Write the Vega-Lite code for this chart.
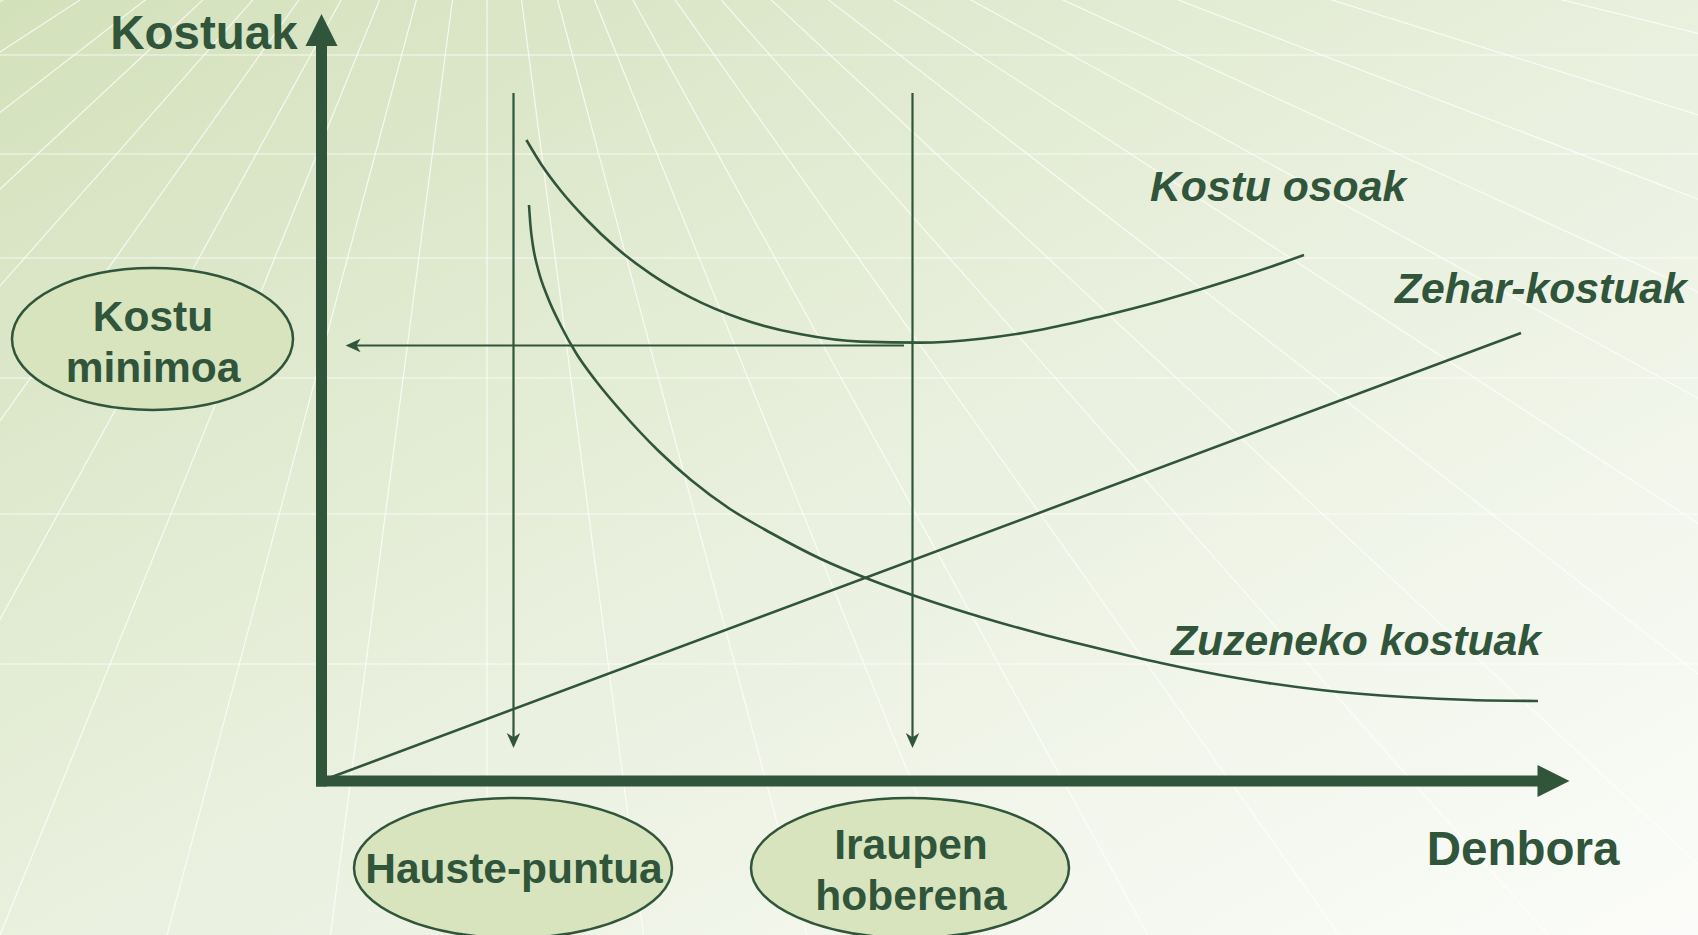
{
  "$schema": "https://vega.github.io/schema/vega-lite/v6.json",
  "width": 1698,
  "height": 935,
  "autosize": {"type": "none"},
  "padding": 0,
  "background": "#ffffff",
  "config": {"view": {"stroke": null}},
  "datasets": {
    "frame": [{"x": -321, "x2": 1377, "y": -154, "y2": 781}],
    "grid": [
      {"x": 166, "y": 1046, "x2": 166, "y2": -334},
      {"x": 166, "y": 1046, "x2": 346, "y2": -334},
      {"x": 166, "y": 1046, "x2": -14, "y2": -334},
      {"x": 166, "y": 1046, "x2": 534, "y2": -334},
      {"x": 166, "y": 1046, "x2": -202, "y2": -334},
      {"x": 166, "y": 1046, "x2": 726, "y2": -334},
      {"x": 166, "y": 1046, "x2": -394, "y2": -334},
      {"x": 166, "y": 1046, "x2": 926, "y2": -334},
      {"x": 166, "y": 1046, "x2": -594, "y2": -334},
      {"x": 166, "y": 1046, "x2": 1146, "y2": -334},
      {"x": 166, "y": 1046, "x2": -814, "y2": -334},
      {"x": 166, "y": 1046, "x2": 1386, "y2": -334},
      {"x": 166, "y": 1046, "x2": -1054, "y2": -334},
      {"x": 166, "y": 1046, "x2": 1646, "y2": -334},
      {"x": 166, "y": 1046, "x2": -1314, "y2": -334},
      {"x": 166, "y": 1046, "x2": 1946, "y2": -334},
      {"x": 166, "y": 1046, "x2": -1614, "y2": -334},
      {"x": 166, "y": 1046, "x2": 2286, "y2": -334},
      {"x": 166, "y": 1046, "x2": -1954, "y2": -334},
      {"x": 166, "y": 1046, "x2": 2686, "y2": -334},
      {"x": 166, "y": 1046, "x2": -2354, "y2": -334},
      {"x": 166, "y": 1046, "x2": 3166, "y2": -334},
      {"x": 166, "y": 1046, "x2": -2834, "y2": -334},
      {"x": 166, "y": 1046, "x2": 3766, "y2": -334},
      {"x": 166, "y": 1046, "x2": -3434, "y2": -334},
      {"x": 166, "y": 1046, "x2": 4566, "y2": -334},
      {"x": 166, "y": 1046, "x2": -4234, "y2": -334},
      {"x": 166, "y": 1046, "x2": 5766, "y2": -334},
      {"x": 166, "y": 1046, "x2": -5434, "y2": -334},
      {"x": 166, "y": 1046, "x2": 7766, "y2": -334},
      {"x": 166, "y": 1046, "x2": -7434, "y2": -334},
      {"x": -321, "y": 726, "x2": 1377, "y2": 726},
      {"x": -321, "y": 627, "x2": 1377, "y2": 627},
      {"x": -321, "y": 523, "x2": 1377, "y2": 523},
      {"x": -321, "y": 403, "x2": 1377, "y2": 403},
      {"x": -321, "y": 267, "x2": 1377, "y2": 267},
      {"x": -321, "y": 117, "x2": 1377, "y2": 117}
    ],
    "axes": [
      {"x": 0.5, "y": -5.5, "x2": 0.5, "y2": 737},
      {"x": -5, "y": 0, "x2": 1218, "y2": 0}
    ],
    "axisHeadUp": [{"x": 0.5, "y": 751}],
    "axisHeadRight": [{"x": 1232.5, "y": 0}],
    "curves": [
      {"series": "Kostu osoak", "x": 205.4, "y": 641},
      {"series": "Kostu osoak", "x": 220, "y": 617},
      {"series": "Kostu osoak", "x": 240, "y": 590},
      {"series": "Kostu osoak", "x": 265, "y": 562},
      {"series": "Kostu osoak", "x": 295, "y": 533.4},
      {"series": "Kostu osoak", "x": 330, "y": 506.9},
      {"series": "Kostu osoak", "x": 370, "y": 483.3},
      {"series": "Kostu osoak", "x": 420, "y": 462.2},
      {"series": "Kostu osoak", "x": 480, "y": 446.7},
      {"series": "Kostu osoak", "x": 540, "y": 439.4},
      {"series": "Kostu osoak", "x": 600, "y": 438.4},
      {"series": "Kostu osoak", "x": 660, "y": 442.3},
      {"series": "Kostu osoak", "x": 720, "y": 451.2},
      {"series": "Kostu osoak", "x": 780, "y": 464.6},
      {"series": "Kostu osoak", "x": 840, "y": 480.0},
      {"series": "Kostu osoak", "x": 900, "y": 497.9},
      {"series": "Kostu osoak", "x": 960, "y": 517.8},
      {"series": "Kostu osoak", "x": 983, "y": 526.0},
      {"series": "Zuzeneko kostuak", "x": 208, "y": 576},
      {"series": "Zuzeneko kostuak", "x": 209.5, "y": 555},
      {"series": "Zuzeneko kostuak", "x": 212, "y": 535},
      {"series": "Zuzeneko kostuak", "x": 217, "y": 512},
      {"series": "Zuzeneko kostuak", "x": 227, "y": 483},
      {"series": "Zuzeneko kostuak", "x": 240, "y": 455},
      {"series": "Zuzeneko kostuak", "x": 255, "y": 428},
      {"series": "Zuzeneko kostuak", "x": 275, "y": 400},
      {"series": "Zuzeneko kostuak", "x": 300, "y": 370},
      {"series": "Zuzeneko kostuak", "x": 337.6, "y": 330},
      {"series": "Zuzeneko kostuak", "x": 370, "y": 301},
      {"series": "Zuzeneko kostuak", "x": 409, "y": 272},
      {"series": "Zuzeneko kostuak", "x": 450, "y": 248},
      {"series": "Zuzeneko kostuak", "x": 500, "y": 222},
      {"series": "Zuzeneko kostuak", "x": 550, "y": 201},
      {"series": "Zuzeneko kostuak", "x": 600, "y": 183},
      {"series": "Zuzeneko kostuak", "x": 663, "y": 163},
      {"series": "Zuzeneko kostuak", "x": 720, "y": 147},
      {"series": "Zuzeneko kostuak", "x": 780, "y": 132},
      {"series": "Zuzeneko kostuak", "x": 840, "y": 118},
      {"series": "Zuzeneko kostuak", "x": 916, "y": 103},
      {"series": "Zuzeneko kostuak", "x": 1000, "y": 91},
      {"series": "Zuzeneko kostuak", "x": 1084, "y": 84},
      {"series": "Zuzeneko kostuak", "x": 1150, "y": 81},
      {"series": "Zuzeneko kostuak", "x": 1217, "y": 80},
      {"series": "Zehar-kostuak", "x": 0, "y": 0},
      {"series": "Zehar-kostuak", "x": 1200, "y": 448}
    ],
    "guides": [
      {"x": 192.5, "y": 688, "x2": 192.5, "y2": 36},
      {"x": 591.5, "y": 688, "x2": 591.5, "y2": 36},
      {"x": 583, "y": 435.5, "x2": 30, "y2": 435.5}
    ],
    "headsDown": [{"x": 192.5, "y": 40.5}, {"x": 591.5, "y": 40.5}],
    "headsLeft": [{"x": 32.1, "y": 435.5}],
    "ellipseLeft": [{"x": -168.5, "y": 442}],
    "ellipseBottom": [{"x": 192, "y": -87}, {"x": 589, "y": -87}],
    "titles": [
      {"label": "Kostuak", "x": -117, "y": 731.7},
      {"label": "Denbora", "x": 1202, "y": -84}
    ],
    "boxLabels": [
      {"label": "Kostu", "x": -168, "y": 450},
      {"label": "minimoa", "x": -168, "y": 399},
      {"label": "Hauste-puntua", "x": 193, "y": -102},
      {"label": "Iraupen", "x": 590, "y": -78},
      {"label": "hoberena", "x": 590, "y": -129}
    ],
    "curveLabels": [
      {"label": "Kostu osoak", "x": 829, "y": 580},
      {"label": "Zehar-kostuak", "x": 1074, "y": 478},
      {"label": "Zuzeneko kostuak", "x": 850, "y": 126}
    ]
  },
  "layer": [
    {
      "data": {"name": "frame"},
      "mark": {"type": "rect", "fill": {"gradient": "linear", "x1": 0, "y1": 0, "x2": 1, "y2": 1, "stops": [{"offset": 0, "color": "#d3e1bb"}, {"offset": 0.5, "color": "#e9f0de"}, {"offset": 1, "color": "#fbfcf9"}]}},
      "encoding": {
        "x": {"field": "x", "type": "quantitative", "axis": null, "scale": {"domain": [-321, 1377], "nice": false, "zero": false}},
        "x2": {"field": "x2"},
        "y": {"field": "y", "type": "quantitative", "axis": null, "scale": {"domain": [-154, 781], "nice": false, "zero": false}},
        "y2": {"field": "y2"}
      }
    },
    {
      "data": {"name": "grid"},
      "mark": {"type": "rule", "color": "#ffffff", "strokeWidth": 1.2, "opacity": 0.75, "clip": true},
      "encoding": {
        "x": {"field": "x", "type": "quantitative", "axis": null, "scale": {"domain": [-321, 1377], "nice": false, "zero": false}},
        "x2": {"field": "x2"},
        "y": {"field": "y", "type": "quantitative", "axis": null, "scale": {"domain": [-154, 781], "nice": false, "zero": false}},
        "y2": {"field": "y2"}
      }
    },
    {
      "data": {"name": "axes"},
      "mark": {"type": "rule", "color": "#30553a", "strokeWidth": 11},
      "encoding": {
        "x": {"field": "x", "type": "quantitative", "axis": null, "scale": {"domain": [-321, 1377], "nice": false, "zero": false}},
        "x2": {"field": "x2"},
        "y": {"field": "y", "type": "quantitative", "axis": null, "scale": {"domain": [-154, 781], "nice": false, "zero": false}},
        "y2": {"field": "y2"}
      }
    },
    {
      "data": {"name": "axisHeadUp"},
      "mark": {"type": "point", "shape": "M0,-1L1,1L-1,1Z", "size": 1024, "filled": true, "opacity": 1, "color": "#30553a"},
      "encoding": {
        "x": {"field": "x", "type": "quantitative", "axis": null, "scale": {"domain": [-321, 1377], "nice": false, "zero": false}},
        "y": {"field": "y", "type": "quantitative", "axis": null, "scale": {"domain": [-154, 781], "nice": false, "zero": false}}
      }
    },
    {
      "data": {"name": "axisHeadRight"},
      "mark": {"type": "point", "shape": "M0,-1L1,1L-1,1Z", "size": 1024, "angle": 90, "filled": true, "opacity": 1, "color": "#30553a"},
      "encoding": {
        "x": {"field": "x", "type": "quantitative", "axis": null, "scale": {"domain": [-321, 1377], "nice": false, "zero": false}},
        "y": {"field": "y", "type": "quantitative", "axis": null, "scale": {"domain": [-154, 781], "nice": false, "zero": false}}
      }
    },
    {
      "data": {"name": "guides"},
      "mark": {"type": "rule", "color": "#30553a", "strokeWidth": 2.2},
      "encoding": {
        "x": {"field": "x", "type": "quantitative", "axis": null, "scale": {"domain": [-321, 1377], "nice": false, "zero": false}},
        "x2": {"field": "x2"},
        "y": {"field": "y", "type": "quantitative", "axis": null, "scale": {"domain": [-154, 781], "nice": false, "zero": false}},
        "y2": {"field": "y2"}
      }
    },
    {
      "data": {"name": "headsDown"},
      "mark": {"type": "point", "shape": "M0,1L-0.9,-1L0,-0.45L0.9,-1Z", "size": 225, "filled": true, "opacity": 1, "color": "#30553a"},
      "encoding": {
        "x": {"field": "x", "type": "quantitative", "axis": null, "scale": {"domain": [-321, 1377], "nice": false, "zero": false}},
        "y": {"field": "y", "type": "quantitative", "axis": null, "scale": {"domain": [-154, 781], "nice": false, "zero": false}}
      }
    },
    {
      "data": {"name": "headsLeft"},
      "mark": {"type": "point", "shape": "M0,1L-0.9,-1L0,-0.45L0.9,-1Z", "size": 225, "angle": 90, "filled": true, "opacity": 1, "color": "#30553a"},
      "encoding": {
        "x": {"field": "x", "type": "quantitative", "axis": null, "scale": {"domain": [-321, 1377], "nice": false, "zero": false}},
        "y": {"field": "y", "type": "quantitative", "axis": null, "scale": {"domain": [-154, 781], "nice": false, "zero": false}}
      }
    },
    {
      "data": {"name": "curves"},
      "mark": {"type": "line", "color": "#30553a", "strokeWidth": 2.6, "interpolate": "monotone"},
      "encoding": {
        "x": {"field": "x", "type": "quantitative", "axis": null, "scale": {"domain": [-321, 1377], "nice": false, "zero": false}},
        "y": {"field": "y", "type": "quantitative", "axis": null, "scale": {"domain": [-154, 781], "nice": false, "zero": false}},
        "detail": {"field": "series", "type": "nominal"}
      }
    },
    {
      "data": {"name": "ellipseLeft"},
      "mark": {"type": "point", "shape": "M-1,0A1,0.505,0,1,1,1,0A1,0.505,0,1,1,-1,0Z", "size": 78961, "filled": true, "opacity": 1, "fill": "#d8e4be", "stroke": "#30553a", "strokeWidth": 2.5},
      "encoding": {
        "x": {"field": "x", "type": "quantitative", "axis": null, "scale": {"domain": [-321, 1377], "nice": false, "zero": false}},
        "y": {"field": "y", "type": "quantitative", "axis": null, "scale": {"domain": [-154, 781], "nice": false, "zero": false}}
      }
    },
    {
      "data": {"name": "ellipseBottom"},
      "mark": {"type": "point", "shape": "M-1,0A1,0.44,0,1,1,1,0A1,0.44,0,1,1,-1,0Z", "size": 101124, "filled": true, "opacity": 1, "fill": "#d8e4be", "stroke": "#30553a", "strokeWidth": 2.5},
      "encoding": {
        "x": {"field": "x", "type": "quantitative", "axis": null, "scale": {"domain": [-321, 1377], "nice": false, "zero": false}},
        "y": {"field": "y", "type": "quantitative", "axis": null, "scale": {"domain": [-154, 781], "nice": false, "zero": false}}
      }
    },
    {
      "data": {"name": "titles"},
      "mark": {"type": "text", "font": "Liberation Sans", "fontWeight": "bold", "fontSize": 47.5, "align": "center", "baseline": "alphabetic", "color": "#30553a"},
      "encoding": {
        "x": {"field": "x", "type": "quantitative", "axis": null, "scale": {"domain": [-321, 1377], "nice": false, "zero": false}},
        "y": {"field": "y", "type": "quantitative", "axis": null, "scale": {"domain": [-154, 781], "nice": false, "zero": false}},
        "text": {"field": "label"}
      }
    },
    {
      "data": {"name": "boxLabels"},
      "mark": {"type": "text", "font": "Liberation Sans", "fontWeight": "bold", "fontSize": 42.5, "align": "center", "baseline": "alphabetic", "color": "#30553a"},
      "encoding": {
        "x": {"field": "x", "type": "quantitative", "axis": null, "scale": {"domain": [-321, 1377], "nice": false, "zero": false}},
        "y": {"field": "y", "type": "quantitative", "axis": null, "scale": {"domain": [-154, 781], "nice": false, "zero": false}},
        "text": {"field": "label"}
      }
    },
    {
      "data": {"name": "curveLabels"},
      "mark": {"type": "text", "font": "Liberation Sans", "fontWeight": "bold", "fontStyle": "italic", "fontSize": 42.7, "align": "left", "baseline": "alphabetic", "color": "#30553a"},
      "encoding": {
        "x": {"field": "x", "type": "quantitative", "axis": null, "scale": {"domain": [-321, 1377], "nice": false, "zero": false}},
        "y": {"field": "y", "type": "quantitative", "axis": null, "scale": {"domain": [-154, 781], "nice": false, "zero": false}},
        "text": {"field": "label"}
      }
    }
  ]
}
